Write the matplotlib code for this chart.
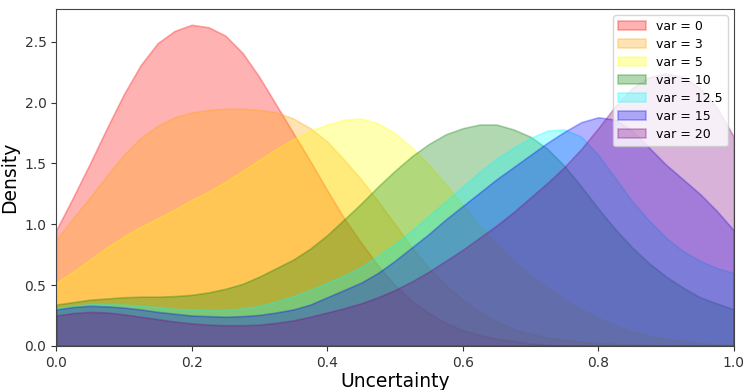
import matplotlib
matplotlib.use('Agg')
import matplotlib.pyplot as plt
import numpy as np

# uncertainty grid (0 .. 1 in steps of 0.025) and density
uncertainty = np.round(np.arange(41) * 0.025, 3)

labels = ['var = 0', 'var = 3', 'var = 5', 'var = 10', 'var = 12.5', 'var = 15', 'var = 20']
colors = ['red', 'orange', 'yellow', 'green', 'cyan', 'blue', 'purple']

dens_0 = [0.95, 1.22, 1.50, 1.79, 2.07, 2.31, 2.49, 2.59, 2.64, 2.62,
          2.55, 2.41, 2.21, 1.98, 1.75, 1.52, 1.28, 1.05, 0.85, 0.66,
          0.50, 0.37, 0.27, 0.19, 0.13, 0.09, 0.06, 0.04, 0.02, 0.01,
          0.005, 0, 0, 0, 0, 0, 0, 0, 0, 0, 0]
dens_3 = [0.87, 1.05, 1.22, 1.40, 1.57, 1.71, 1.81, 1.88, 1.92, 1.94,
          1.95, 1.95, 1.94, 1.92, 1.87, 1.79, 1.68, 1.53, 1.37, 1.19,
          1.00, 0.81, 0.64, 0.50, 0.38, 0.28, 0.20, 0.14, 0.10, 0.07,
          0.05, 0.035, 0.025, 0.018, 0.012, 0.008, 0.005, 0.003, 0.002, 0.001, 0.0]
dens_5 = [0.52, 0.61, 0.71, 0.81, 0.90, 0.98, 1.05, 1.12, 1.20, 1.27,
          1.35, 1.44, 1.53, 1.62, 1.70, 1.77, 1.82, 1.86, 1.87, 1.83,
          1.75, 1.63, 1.49, 1.33, 1.16, 0.99, 0.84, 0.70, 0.58, 0.48,
          0.38, 0.30, 0.23, 0.17, 0.12, 0.085, 0.06, 0.04, 0.025, 0.015, 0.01]
dens_10 = [0.34, 0.36, 0.38, 0.39, 0.40, 0.405, 0.405, 0.41, 0.42, 0.44,
           0.47, 0.51, 0.57, 0.64, 0.71, 0.80, 0.91, 1.04, 1.17, 1.31,
           1.44, 1.56, 1.66, 1.74, 1.79, 1.82, 1.82, 1.78, 1.72, 1.62,
           1.48, 1.31, 1.13, 0.96, 0.81, 0.68, 0.57, 0.48, 0.40, 0.35, 0.30]
dens_12_5 = [0.31, 0.33, 0.345, 0.345, 0.34, 0.33, 0.32, 0.305, 0.30, 0.295,
             0.295, 0.31, 0.33, 0.365, 0.41, 0.46, 0.52, 0.58, 0.65, 0.74,
             0.84, 0.95, 1.07, 1.19, 1.31, 1.43, 1.54, 1.63, 1.71, 1.77,
             1.78, 1.72, 1.57, 1.38, 1.19, 1.03, 0.89, 0.78, 0.70, 0.64, 0.60]
dens_15 = [0.30, 0.32, 0.33, 0.325, 0.315, 0.30, 0.28, 0.265, 0.25, 0.245,
           0.24, 0.245, 0.255, 0.275, 0.30, 0.34, 0.40, 0.46, 0.52, 0.60,
           0.70, 0.81, 0.92, 1.04, 1.15, 1.26, 1.37, 1.47, 1.57, 1.67,
           1.76, 1.84, 1.88, 1.86, 1.77, 1.63, 1.49, 1.37, 1.25, 1.11, 0.95]
dens_20 = [0.25, 0.27, 0.28, 0.275, 0.26, 0.24, 0.22, 0.20, 0.185, 0.175,
           0.17, 0.17, 0.175, 0.19, 0.21, 0.24, 0.275, 0.31, 0.35, 0.40,
           0.46, 0.53, 0.61, 0.70, 0.79, 0.89, 0.99, 1.10, 1.22, 1.34,
           1.47, 1.62, 1.79, 1.97, 2.12, 2.21, 2.24, 2.21, 2.12, 1.96, 1.72]

series = [dens_0, dens_3, dens_5, dens_10, dens_12_5, dens_15, dens_20]

fig, ax = plt.subplots(figsize=(7.48, 3.9), dpi=100)
fig.subplots_adjust(left=0.075, right=0.981, top=0.977, bottom=0.113)

for dens, col, lab in zip(series, colors, labels):
    ax.fill_between(uncertainty, dens, color=col, alpha=0.3, linewidth=1.2, label=lab)

ax.set_xlim(0, 1)
ax.set_ylim(0, 2.77)
ax.set_xticks([0.0, 0.2, 0.4, 0.6, 0.8, 1.0])
ax.set_yticks([0.0, 0.5, 1.0, 1.5, 2.0, 2.5])
ax.tick_params(labelsize=10, colors='#333333')
for s in ax.spines.values():
    s.set_color('#444444')

ax.set_xlabel('Uncertainty', fontsize=13.5, labelpad=2)
ax.set_ylabel('Density', fontsize=13.5, labelpad=4)

ax.legend(loc='upper right', fontsize=9, labelspacing=0.4, borderaxespad=0.5,
          handlelength=2.2)

fig.savefig('out.png', dpi=100)
